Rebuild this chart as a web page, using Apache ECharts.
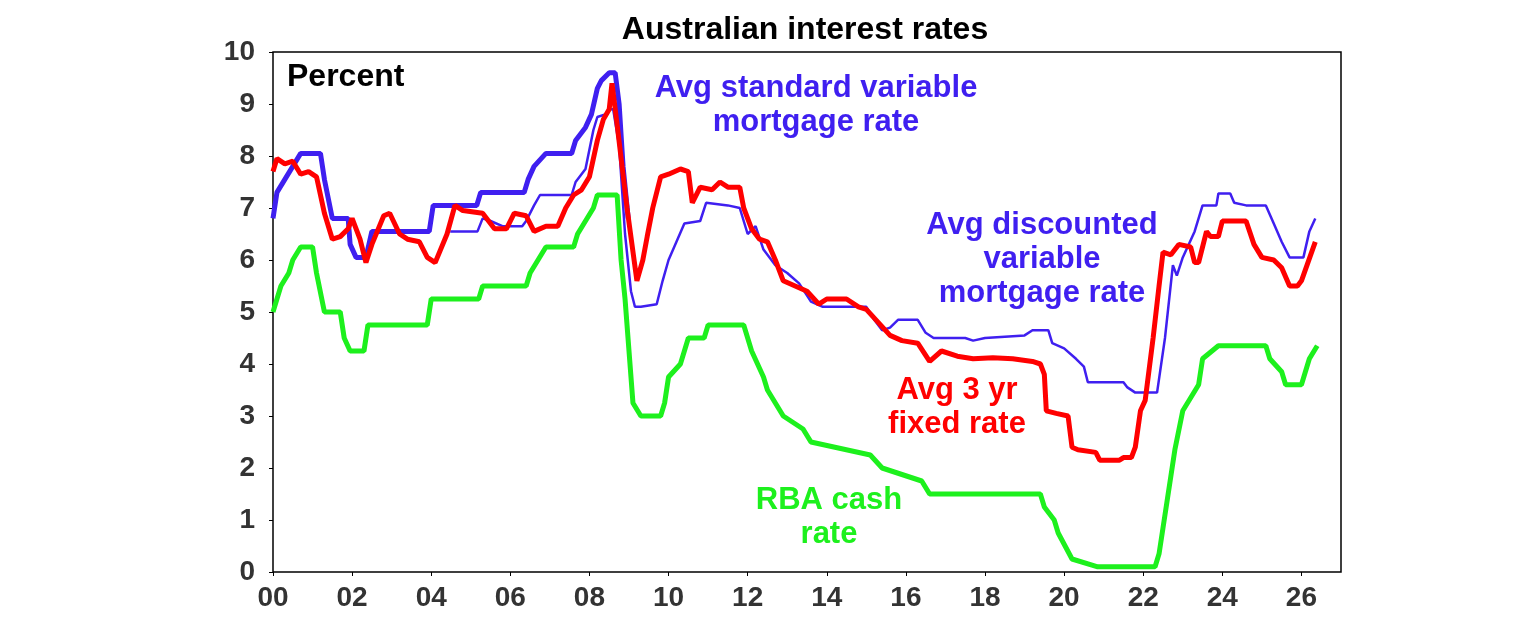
<!DOCTYPE html>
<html>
<head>
<meta charset="utf-8">
<script src="https://cdn.jsdelivr.net/npm/echarts@6/dist/echarts.min.js"></script>
<style>html,body{margin:0;padding:0;background:#fff}#chart{width:1536px;height:630px}</style>
</head>
<body>
<div id="chart"></div>
<script>
// years since 2000, percent
var cashRate = [[0,5.0],[0.2,5.5],[0.4,5.75],[0.5,6.0],[0.7,6.25],[1.0,6.25],[1.1,5.75],[1.3,5.0],[1.7,5.0],[1.8,4.5],[1.95,4.25],[2.3,4.25],[2.4,4.75],[3.9,4.75],[4.0,5.25],[5.2,5.25],[5.3,5.5],[6.4,5.5],[6.5,5.75],[6.7,6.0],[6.9,6.25],[7.6,6.25],[7.7,6.5],[7.9,6.75],[8.1,7.0],[8.2,7.25],[8.7,7.25],[8.8,6.0],[8.9,5.25],[9.0,4.25],[9.1,3.25],[9.3,3.0],[9.8,3.0],[9.9,3.25],[10.0,3.75],[10.3,4.0],[10.4,4.25],[10.5,4.5],[10.9,4.5],[11.0,4.75],[11.9,4.75],[12.0,4.5],[12.1,4.25],[12.4,3.75],[12.5,3.5],[12.9,3.0],[13.4,2.75],[13.6,2.5],[15.1,2.25],[15.4,2.0],[16.4,1.75],[16.6,1.5],[19.4,1.5],[19.5,1.25],[19.75,1.0],[19.85,0.75],[20.2,0.25],[20.85,0.1],[22.3,0.1],[22.4,0.35],[22.5,0.85],[22.6,1.35],[22.7,1.85],[22.8,2.35],[23.0,3.1],[23.2,3.35],[23.4,3.6],[23.5,4.1],[23.9,4.35],[25.1,4.35],[25.2,4.1],[25.5,3.85],[25.6,3.6],[26.0,3.6],[26.2,4.1],[26.4,4.35]];
var standardVar = [[0,6.8],[0.1,7.3],[0.3,7.55],[0.5,7.8],[0.7,8.05],[1.2,8.05],[1.3,7.55],[1.5,6.8],[1.9,6.8],[1.95,6.3],[2.1,6.05],[2.35,6.05],[2.5,6.55],[3.95,6.55],[4.05,7.05],[5.15,7.05],[5.25,7.3],[6.35,7.3],[6.45,7.55],[6.6,7.8],[6.9,8.05],[7.55,8.05],[7.65,8.3],[7.9,8.55],[8.05,8.8],[8.2,9.3],[8.3,9.45],[8.5,9.6],[8.65,9.6],[8.75,9.0],[8.85,7.8],[8.98,6.8]];
var discountedVar = [[4.48,6.55],[5.17,6.55],[5.3,6.8],[5.5,6.75],[5.8,6.65],[6.3,6.65],[6.4,6.75],[6.6,7.05],[6.75,7.25],[7.55,7.25],[7.65,7.5],[7.9,7.75],[8.1,8.5],[8.2,8.75],[8.4,8.8],[8.5,8.9],[8.6,8.9],[8.75,8.2],[8.9,6.5],[9.05,5.4],[9.15,5.1],[9.3,5.1],[9.7,5.15],[9.85,5.6],[10.0,6.0],[10.2,6.35],[10.4,6.7],[10.8,6.75],[10.95,7.1],[11.5,7.05],[11.8,7.0],[12.0,6.5],[12.2,6.65],[12.4,6.2],[12.7,5.9],[13.0,5.75],[13.3,5.55],[13.6,5.2],[13.9,5.1],[15.0,5.1],[15.2,4.85],[15.4,4.65],[15.6,4.7],[15.8,4.85],[16.3,4.85],[16.5,4.6],[16.7,4.5],[17.5,4.5],[17.7,4.45],[18.0,4.5],[19.0,4.55],[19.2,4.65],[19.6,4.65],[19.7,4.4],[20.0,4.3],[20.3,4.1],[20.5,3.95],[20.6,3.65],[21.5,3.65],[21.6,3.55],[21.8,3.45],[22.35,3.45],[22.55,4.5],[22.75,5.9],[22.85,5.7],[23.0,6.05],[23.3,6.55],[23.5,7.05],[23.85,7.05],[23.9,7.28],[24.2,7.28],[24.3,7.1],[24.6,7.05],[25.1,7.05],[25.3,6.7],[25.5,6.35],[25.7,6.05],[26.05,6.05],[26.2,6.55],[26.35,6.8]];
var fixed3yr = [[0,7.7],[0.1,7.95],[0.3,7.85],[0.5,7.9],[0.7,7.65],[0.9,7.7],[1.1,7.6],[1.3,6.9],[1.5,6.4],[1.7,6.45],[1.9,6.6],[2.0,6.8],[2.2,6.4],[2.35,5.95],[2.5,6.3],[2.8,6.85],[2.95,6.9],[3.2,6.5],[3.4,6.4],[3.7,6.35],[3.9,6.05],[4.1,5.95],[4.4,6.5],[4.6,7.05],[4.8,6.95],[5.3,6.9],[5.6,6.6],[5.9,6.6],[6.1,6.9],[6.4,6.85],[6.6,6.55],[6.9,6.65],[7.2,6.65],[7.4,7.0],[7.6,7.25],[7.8,7.35],[8.0,7.6],[8.2,8.3],[8.35,8.7],[8.5,8.9],[8.57,9.4],[8.7,8.6],[8.95,7.0],[9.2,5.6],[9.35,6.0],[9.46,6.45],[9.6,7.0],[9.8,7.6],[10.0,7.65],[10.3,7.75],[10.5,7.7],[10.6,7.1],[10.8,7.4],[11.1,7.35],[11.3,7.5],[11.5,7.4],[11.8,7.4],[11.9,7.0],[12.1,6.6],[12.3,6.4],[12.5,6.35],[12.7,6.0],[12.9,5.6],[13.2,5.5],[13.5,5.4],[13.8,5.15],[14.0,5.25],[14.5,5.25],[14.8,5.1],[15.0,5.05],[15.3,4.8],[15.6,4.55],[15.9,4.45],[16.3,4.4],[16.6,4.05],[16.9,4.25],[17.3,4.15],[17.7,4.1],[18.2,4.12],[18.7,4.1],[19.2,4.05],[19.4,4.0],[19.5,3.8],[19.55,3.1],[19.8,3.05],[20.1,3.0],[20.2,2.4],[20.35,2.35],[20.8,2.3],[20.9,2.15],[21.4,2.15],[21.5,2.2],[21.7,2.2],[21.8,2.4],[21.93,3.1],[22.05,3.3],[22.25,4.5],[22.4,5.5],[22.5,6.15],[22.7,6.1],[22.9,6.3],[23.2,6.25],[23.3,5.95],[23.4,5.95],[23.6,6.55],[23.7,6.45],[23.9,6.45],[24.0,6.75],[24.6,6.75],[24.8,6.3],[25.0,6.05],[25.3,6.0],[25.5,5.85],[25.7,5.5],[25.9,5.5],[26.0,5.6],[26.35,6.35]];
var xTicks = ['00','02','04','06','08','10','12','14','16','18','20','22','24','26'];

var blue = '#3f1ff0', red = '#ff0000', green = '#1df01d';
var chart = echarts.init(document.getElementById('chart'));
var font = 'Liberation Sans, Arial, sans-serif';

function label(txt, x, y, color) {
    return {type: 'text', x: x, y: y, style: {text: txt, fill: color, font: 'bold 31px ' + font, align: 'center', verticalAlign: 'top', lineHeight: 34}};
}

chart.setOption({
    animation: false,
    grid: {left: 273, right: 195, top: 52, bottom: 58, show: true, borderColor: '#000', borderWidth: 1.5},
    xAxis: {type: 'value', min: 0, max: 27, interval: 2,
        axisLine: {show: false}, splitLine: {show: false},
        axisTick: {show: true, inside: false, length: 4, lineStyle: {color: '#000'}},
        axisLabel: {showMaxLabel: false, margin: 12, fontFamily: font, fontSize: 28, fontWeight: 'bold', color: '#333',
            formatter: function (v) { return xTicks[v / 2] || ''; }}},
    yAxis: {type: 'value', min: 0, max: 10, interval: 1,
        axisLine: {show: false}, splitLine: {show: false},
        axisTick: {show: true, length: 4, lineStyle: {color: '#000'}},
        axisLabel: {margin: 18, fontFamily: font, fontSize: 28, fontWeight: 'bold', color: '#333'}},
    series: [
        {name: 'RBA cash rate', type: 'line', data: cashRate, showSymbol: false, lineStyle: {color: green, width: 5}},
        {name: 'Avg standard variable', type: 'line', data: standardVar, showSymbol: false, lineStyle: {color: blue, width: 5}},
        {name: 'Avg discounted variable', type: 'line', data: discountedVar, showSymbol: false, lineStyle: {color: blue, width: 2.5}},
        {name: 'Avg 3 yr fixed', type: 'line', data: fixed3yr, showSymbol: false, lineStyle: {color: red, width: 5}}
    ],
    graphic: [
        {type: 'text', x: 805, y: 14, style: {text: 'Australian interest rates', fill: '#000', font: 'bold 32px ' + font, align: 'center', verticalAlign: 'top'}},
        {type: 'text', x: 287, y: 61, style: {text: 'Percent', fill: '#000', font: 'bold 32px ' + font, verticalAlign: 'top'}},
        label('Avg standard variable\nmortgage rate', 816, 71, blue),
        label('Avg discounted\nvariable\nmortgage rate', 1042, 208, blue),
        label('Avg 3 yr\nfixed rate', 957, 373, red),
        label('RBA cash\nrate', 829, 483, green)
    ]
});
</script>
</body>
</html>
